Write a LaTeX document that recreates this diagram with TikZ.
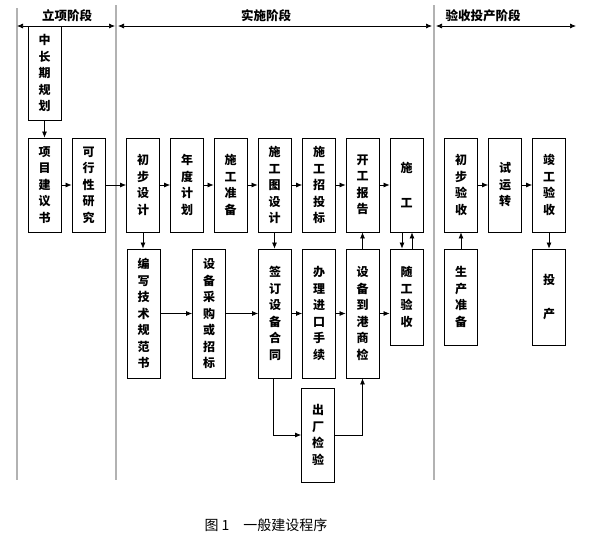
\documentclass[tikz,border=0pt]{standalone}
\usepackage{fontspec}
\newfontfamily\cjk{Noto Sans CJK SC}
\usetikzlibrary{arrows.meta}
\tikzset{
  bx/.style={draw, line width=0.8pt, inner sep=0pt, minimum width=33pt, align=center,
             font=\cjk\bfseries\fontsize{12}{16.5}\selectfont},
  arr/.style={line width=0.7pt, -{Latex[length=6pt,width=5pt]}},
  dbl/.style={line width=0.7pt, {Latex[length=6pt,width=5pt]}-{Latex[length=6pt,width=5pt]}},
  sep/.style={draw=black!30, line width=1.2pt},
  hdr/.style={font=\cjk\bfseries\fontsize{12.5}{14}\selectfont, inner sep=0pt},
}
\begin{document}
\begin{tikzpicture}[x=1pt,y=-1pt]
\useasboundingbox (0,0) rectangle (589,544);
% separators
\draw[sep] (17,8) -- (17,480);
\draw[sep] (116,5) -- (116,480);
\draw[sep] (434,5) -- (434,480);
% headers
\node[hdr] (h1) at (67,16) {立项阶段};
\node[hdr] (h2) at (266,16) {实施阶段};
\node[hdr] (h3) at (483,16) {验收投产阶段};
\coordinate (a1) at (17,26); \coordinate (b1) at (115,26);
\coordinate (a2) at (118,26); \coordinate (b2) at (432,26);
\coordinate (a3) at (436,26); \coordinate (b3) at (576,26);
\draw[dbl] (a1) -- (b1);
\draw[dbl] (a2) -- (b2);
\draw[dbl] (a3) -- (b3);
% top row
\node[bx, minimum height=94pt] (zc) at (44.5,73) {中\\长\\期\\规\\划};
\node[bx, minimum height=94pt] (xm) at (44.5,185) {项\\目\\建\\议\\书};
\node[bx, minimum height=94pt] (kx) at (88.5,185) {可\\行\\性\\研\\究};
\node[bx, minimum height=94pt] (cb) at (143,185) {初\\步\\设\\计};
\node[bx, minimum height=94pt] (nd) at (187,185) {年\\度\\计\\划};
\node[bx, minimum height=94pt] (sz) at (230.5,185) {施\\工\\准\\备};
\node[bx, minimum height=94pt] (st) at (274.5,185) {施\\工\\图\\设\\计};
\node[bx, minimum height=94pt] (zt) at (319,185) {施\\工\\招\\投\\标};
\node[bx, minimum height=94pt] (kg) at (362.5,185) {开\\工\\报\\告};
\node[bx, minimum height=94pt] (sg) at (406.5,185) {施\\[19pt]工};
\node[bx, minimum height=94pt] (cy) at (461,185) {初\\步\\验\\收};
\node[bx, minimum height=94pt] (sy) at (505,185) {试\\运\\转};
\node[bx, minimum height=94pt] (jg) at (549,185) {竣\\工\\验\\收};
% second row
\node[bx, minimum height=129pt] (bx1) at (143.5,313.5) {编\\写\\技\\术\\规\\范\\书};
\node[bx, minimum height=129pt] (cg) at (209,313.5) {设\\备\\采\\购\\或\\招\\标};
\node[bx, minimum height=129pt] (qd) at (275,313.5) {签\\订\\设\\备\\合\\同};
\node[bx, minimum height=129pt] (bl) at (319,313.5) {办\\理\\进\\口\\手\\续};
\node[bx, minimum height=129pt] (dg) at (362.5,313.5) {设\\备\\到\\港\\商\\检};
\node[bx, minimum height=96pt] (sgy) at (406.5,297) {随\\工\\验\\收};
\node[bx, minimum height=96pt] (sc) at (461,297) {生\\产\\准\\备};
\node[bx, minimum height=96pt] (tc) at (549,297) {投\\[17pt]产};
\node[bx, minimum height=94pt] (cc) at (318,435) {出\\厂\\检\\验};
% caption
\node[font=\cjk\fontsize{14}{16}\selectfont, inner sep=0pt] (cap) at (266,525) {图 1\quad 一般建设程序};
% connectors top row
\draw[arr] (zc) -- (xm);
\draw[arr] (xm) -- (kx);
\draw[arr] (kx) -- (cb);
\draw[arr] (cb) -- (nd);
\draw[arr] (nd) -- (sz);
\draw[arr] (sz) -- (st);
\draw[arr] (st) -- (zt);
\draw[arr] (zt) -- (kg);
\draw[arr] (kg) -- (sg);
\draw[arr] (cy) -- (sy);
\draw[arr] (sy) -- (jg);
% verticals
\draw[arr] (cb) -- (bx1.north -| cb);
\draw[arr] (st) -- (qd.north -| st);
\draw[arr] (dg) -- (kg);
\draw[arr] ([xshift=-4.5pt]sg.south) -- ([xshift=-4.5pt]sgy.north);
\draw[arr] ([xshift=5.5pt]sgy.north) -- ([xshift=5.5pt]sg.south);
\draw[arr] (sc) -- (cy);
\draw[arr] (jg) -- (tc);
% second row
\draw[arr] (bx1) -- (cg);
\draw[arr] (cg) -- (qd);
\draw[arr] (qd) -- (bl);
\draw[arr] (bl) -- (dg);
\draw[arr] (dg.east) -- (dg.east -| sgy.west);
\draw[arr] ([xshift=-2pt]qd.south) |- (cc.west);
\draw[arr] (cc.east) -| (dg.south);
\end{tikzpicture}
\end{document}
